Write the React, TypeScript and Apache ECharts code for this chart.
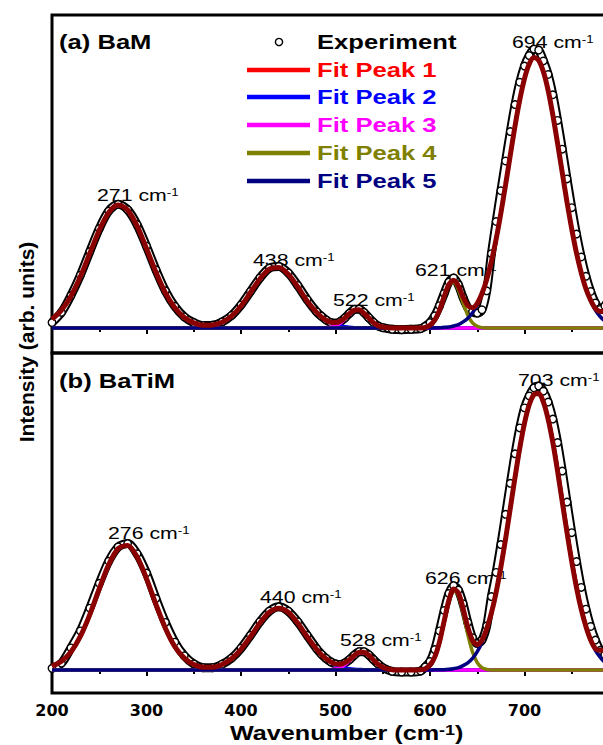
import React, { useEffect, useRef } from "react";
import * as echarts from "echarts";

// Wavenumber sampling grid (cm-1)
const X: number[] = [
  200, 210, 220, 230, 240, 250, 260, 270, 280, 290,
  300, 310, 320, 330, 340, 350, 360, 370, 380, 390,
  400, 410, 420, 430, 440, 450, 460, 470, 480, 485,
  490, 495, 500, 505, 510, 515, 520, 525, 530, 535,
  540, 545, 550, 560, 570, 580, 590, 595, 600, 605,
  610, 615, 620, 625, 630, 635, 640, 645, 650, 655,
  660, 665, 670, 675, 680, 685, 690, 695, 700, 705,
  710, 715, 720, 725, 730, 735, 740, 745, 750, 755,
  760, 765, 770, 775, 780, 785, 790,
];

// (a) BaM
const EXP_A: number[] = [
  1.6, 4.6, 9.6, 15.6, 22.6, 29.4, 34.6, 36.6, 35.0, 30.6,
  24.2, 17.2, 11.0, 6.4, 3.3, 1.6, 0.7, 0.8, 1.8, 3.7,
  6.8, 10.8, 14.8, 17.7, 18.2, 16.3, 12.6, 8.4, 4.8, 3.5,
  2.4, 1.6, 1.4, 1.9, 3.0, 4.4, 5.5, 5.6, 4.6, 3.1,
  1.7, 0.6, 0.1, -0.4, -0.5, -0.4, -0.2, 0.5, 1.6, 3.6,
  6.6, 10.2, 13.6, 14.8, 12.8, 9.0, 6.0, 4.8, 4.4, 5.4,
  11.0, 22.0, 31.5, 40.6, 49.4, 58.1, 66.1, 72.7, 77.5, 80.6,
  82.5, 82.2, 79.0, 75.0, 69.0, 61.4, 52.9, 44.1, 35.6, 27.8,
  21.0, 15.3, 10.8, 7.4, 5.5, 6.5, 9.0,
];
const FIT_A: number[] = [
  2.6, 5.3, 9.4, 15.2, 22.1, 28.9, 34.2, 36.4, 34.9, 30.2,
  23.5, 16.5, 10.4, 6.0, 3.1, 1.5, 0.8, 0.9, 1.7, 3.5,
  6.5, 10.5, 14.5, 17.4, 17.9, 15.9, 12.2, 8.0, 4.6, 3.3,
  2.3, 1.7, 1.6, 2.0, 3.0, 4.3, 5.3, 5.4, 4.4, 3.0,
  1.6, 0.7, 0.3, 0, 0, 0, 0, 0.2, 0.8, 2.3,
  5.2, 9.3, 12.9, 14.1, 12.4, 9.2, 6.6, 6.0, 7.3, 10.2,
  14.3, 19.7, 26.3, 34.0, 42.4, 51.2, 59.8, 67.5, 73.8, 78.1,
  80.0, 79.2, 75.8, 70.3, 63.0, 54.6, 45.9, 37.2, 29.3, 22.2,
  16.4, 11.6, 8.2, 5.8, 4.9, 4.9, 5.3,
];
const PEAK1_A: number[][] = [[200,2.6],[210,5.3],[220,9.4],[230,15.2],[240,22.1],[250,28.9],[260,34.2],[270,36.4],[280,34.9],[290,30.2],[300,23.5],[310,16.5],[320,10.4],[330,6.0],[340,3.1],[350,1.4],[360,0.6],[370,0.2],[380,0.1],[390,0],[790,0]];
const PEAK2_A: number[][] = [[200,0],[330,0],[340,0],[350,0.1],[360,0.2],[370,0.7],[380,1.6],[390,3.5],[400,6.5],[410,10.5],[420,14.5],[430,17.4],[440,17.9],[450,15.9],[460,12.2],[470,8.0],[480,4.6],[490,2.3],[500,1.0],[510,0.4],[520,0.1],[530,0],[790,0]];
const PEAK3_A: number[][] = [[200,0],[485,0],[490,0.1],[495,0.2],[500,0.6],[505,1.4],[510,2.7],[515,4.1],[520,5.2],[525,5.3],[530,4.4],[535,3.0],[540,1.6],[545,0.7],[550,0.3],[560,0],[790,0]];
const PEAK4_A: number[][] = [[200,0],[585,0],[590,0],[595,0.2],[600,0.8],[605,2.2],[610,5.1],[615,9.1],[620,12.6],[625,13.5],[630,11.4],[635,7.4],[640,3.8],[645,1.5],[650,0.5],[655,0.1],[660,0],[790,0]];
const PEAK5_A: number[][] = [[200,0],[590,0],[600,0],[610,0.1],[615,0.2],[620,0.3],[625,0.6],[630,1.0],[635,1.8],[640,2.9],[645,4.5],[650,6.8],[655,10.1],[660,14.3],[665,19.7],[670,26.3],[675,34.0],[680,42.4],[685,51.2],[690,59.8],[695,67.5],[700,73.8],[705,78.1],[710,80.0],[715,79.2],[720,75.8],[725,70.3],[730,63.0],[735,54.6],[740,45.9],[745,37.2],[750,29.3],[755,22.2],[760,16.4],[765,11.6],[770,8.0],[775,5.3],[780,3.4],[785,2.1],[790,1.3]];

// (b) BaTiM
const EXP_B: number[] = [
  0.5, 2.0, 6.5, 11.5, 18.2, 25.5, 32.0, 36.2, 37.2, 34.2,
  28.5, 21.0, 14.0, 8.2, 4.2, 1.8, 0.7, 0.7, 1.7, 3.5,
  6.4, 10.2, 14.2, 17.3, 18.6, 17.3, 14.2, 10.2, 6.3, 4.7,
  3.4, 2.4, 1.8, 1.6, 2.1, 3.1, 4.4, 5.4, 5.4, 4.5,
  3.1, 1.8, 0.7, -0.4, -0.6, -0.6, -0.3, 0.9, 2.5, 6.0,
  11.5, 17.5, 22.5, 24.8, 23.5, 19.5, 14.0, 9.5, 7.8, 8.8,
  13.0, 21.6, 28.7, 36.9, 45.8, 54.9, 63.6, 71.2, 77.1, 80.6,
  83.0, 83.5, 82.0, 78.8, 73.8, 66.9, 58.5, 49.4, 40.4, 31.9,
  24.3, 17.9, 12.8, 8.8, 5.8, 4.5, 5.0,
];
const FIT_B: number[] = [
  1.1, 2.6, 5.3, 9.9, 16.3, 23.9, 31.0, 35.7, 36.6, 33.3,
  26.9, 19.3, 12.3, 6.9, 3.5, 1.6, 0.8, 0.8, 1.6, 3.3,
  6.1, 9.8, 13.8, 17.0, 18.2, 17.0, 13.8, 9.8, 6.1, 4.5,
  3.3, 2.4, 1.8, 1.7, 2.2, 3.1, 4.3, 5.2, 5.2, 4.4,
  3.0, 1.7, 0.8, 0.1, 0, 0, 0.1, 0.4, 1.5, 3.8,
  8.2, 14.4, 20.5, 23.8, 22.7, 18.1, 12.6, 8.7, 7.5, 8.8,
  12.1, 16.8, 22.9, 30.3, 38.6, 47.6, 56.7, 65.3, 72.6, 78.0,
  81.0, 81.3, 78.8, 73.8, 66.9, 58.5, 49.4, 40.4, 31.9, 24.3,
  17.9, 12.8, 8.8, 6.3, 5.8, 5.8, 6.4,
];
const PEAK1_B: number[][] = [[200,1.1],[210,2.6],[220,5.3],[230,9.9],[240,16.3],[250,23.9],[260,31.0],[270,35.7],[280,36.6],[290,33.3],[300,26.9],[310,19.3],[320,12.3],[330,6.9],[340,3.5],[350,1.6],[360,0.6],[370,0.2],[380,0.1],[390,0],[790,0]];
const PEAK2_B: number[][] = [[200,0],[340,0],[350,0.1],[360,0.2],[370,0.6],[380,1.5],[390,3.3],[400,6.1],[410,9.8],[420,13.8],[430,17.0],[440,18.2],[450,17.0],[460,13.8],[470,9.8],[480,6.1],[490,3.3],[500,1.5],[510,0.6],[520,0.2],[530,0.1],[540,0],[790,0]];
const PEAK3_B: number[][] = [[200,0],[490,0],[495,0.1],[500,0.3],[505,0.7],[510,1.5],[515,2.7],[520,4.1],[525,5.0],[530,5.1],[535,4.3],[540,3.0],[545,1.7],[550,0.8],[560,0.1],[570,0],[790,0]];
const PEAK4_B: number[][] = [[200,0],[585,0],[590,0.1],[595,0.4],[600,1.4],[605,3.8],[610,8.2],[615,14.3],[620,20.3],[625,23.4],[630,22.0],[635,16.8],[640,10.5],[645,5.3],[650,2.2],[655,0.7],[660,0.2],[665,0],[790,0]];
const PEAK5_B: number[][] = [[200,0],[595,0],[600,0],[610,0.1],[615,0.1],[620,0.2],[625,0.4],[630,0.7],[635,1.3],[640,2.1],[645,3.4],[650,5.4],[655,8.1],[660,11.9],[665,16.8],[670,22.9],[675,30.3],[680,38.6],[685,47.6],[690,56.7],[695,65.3],[700,72.6],[705,78.0],[710,81.0],[715,81.3],[720,78.8],[725,73.8],[730,66.9],[735,58.5],[740,49.4],[745,40.4],[750,31.9],[755,24.3],[760,17.9],[765,12.8],[770,8.8],[775,5.8],[780,3.8],[785,2.3],[790,1.4]];

const PEAK_NAMES = ["Fit Peak 1", "Fit Peak 2", "Fit Peak 3", "Fit Peak 4", "Fit Peak 5"];
const PEAK_COLORS = ["#ff0000", "#0000ff", "#ff00ff", "#808000", "#000080"];
const FIT_COLOR = "#8b0000";

const LABELS_A: [string, number, number][] = [
  ["271", 97, 195], ["438", 253, 260], ["522", 333, 300], ["621", 415, 270], ["694", 512, 42],
];
const LABELS_B: [string, number, number][] = [
  ["276", 108, 533], ["440", 260, 597], ["528", 340, 640], ["626", 425, 578], ["703", 518, 380],
];

const FONT = "Liberation Sans";

function zip(xs: number[], ys: number[]) {
  return xs.map((x, i) => [x, ys[i]]);
}

function panelSeries(idx: number, exp: number[], fit: number[], peaks: number[][][]) {
  const expData = zip(X, exp);
  const out: any[] = [];
  out.push({
    type: "line", name: "Experiment", xAxisIndex: idx, yAxisIndex: idx, data: expData,
    smooth: 0.3, showSymbol: false, silent: true, z: 1,
    lineStyle: { color: "#000", width: 9 },
  });
  out.push({
    type: "line", name: "Experiment ", xAxisIndex: idx, yAxisIndex: idx, data: expData,
    smooth: 0.3, showSymbol: true, symbol: "circle", symbolSize: 7.5, silent: true, z: 1,
    itemStyle: { color: "#fff", borderColor: "#000", borderWidth: 1.4 },
    lineStyle: { color: "#fff", width: 5 },
  });
  peaks.forEach((p, i) => {
    out.push({
      type: "line", name: PEAK_NAMES[i], xAxisIndex: idx, yAxisIndex: idx, data: p,
      smooth: 0.3, showSymbol: false, silent: true, z: 2,
      lineStyle: { color: PEAK_COLORS[i], width: 3.5 },
    });
  });
  out.push({
    type: "line", name: "Cumulative Fit", xAxisIndex: idx, yAxisIndex: idx, data: zip(X, fit),
    smooth: 0.3, showSymbol: false, silent: true, z: 3,
    lineStyle: { color: FIT_COLOR, width: 5 },
  });
  return out;
}

function txt(text: string, x: number, y: number, size: number, weight: string, fill: string, scaleX: number, rich?: any, rotation?: number, align = "left") {
  return {
    type: "text", x, y, scaleX, rotation: rotation || 0, z: 0, silent: true,
    style: {
      text, fill, fontSize: size, fontWeight: weight, fontFamily: FONT,
      align, verticalAlign: "middle", textAlign: align, textVerticalAlign: "middle",
      rich,
    },
  };
}

function peakLabel(v: string, x: number, y: number) {
  return txt(`${v} cm{s|-1}`, x, y, 16, "normal", "#000", 1.33, {
    s: { fontSize: 10, verticalAlign: "top", fontFamily: FONT, fill: "#000" },
  });
}

export default function App() {
  const ref = useRef<HTMLDivElement>(null);
  useEffect(() => {
    if (!ref.current) return;
    const chart = echarts.init(ref.current, undefined, { renderer: "svg" });
    const xAxisBase = (idx: number, labels: boolean) => ({
      type: "value", gridIndex: idx, min: 200, max: 800, interval: 100,
      axisLine: { show: false },
      axisTick: { show: true, inside: false, length: 6, lineStyle: { color: "#000", width: 2 } },
      minorTick: { show: true, splitNumber: 2, length: 4, lineStyle: { color: "#000", width: 2 } },
      splitLine: { show: false },
      minorSplitLine: { show: false },
      axisLabel: {
        show: labels, color: "#000", fontFamily: "DejaVu Sans", fontWeight: "bold", fontSize: 16, margin: 9,
        showMaxLabel: false,
      },
    });
    const legendGraphics: any[] = [];
    legendGraphics.push({
      type: "circle", shape: { cx: 279, cy: 42, r: 3.6 }, z: 5, silent: true,
      style: { fill: "#fff", stroke: "#000", lineWidth: 1.4 },
    });
    legendGraphics.push(txt("Experiment", 317, 42, 20, "bold", "#000", 1.28));
    const legendY = [70, 97, 125, 153, 181];
    PEAK_NAMES.forEach((n, i) => {
      legendGraphics.push({
        type: "line", shape: { x1: 247, y1: legendY[i], x2: 310, y2: legendY[i] }, z: 5, silent: true,
        style: { stroke: PEAK_COLORS[i], lineWidth: 4.5 },
      });
      legendGraphics.push(txt(n, 317, legendY[i], 20, "bold", PEAK_COLORS[i], 1.28));
    });

    const gridBase = {
      left: 52, width: 567, show: true, borderColor: "#000", borderWidth: 3,
      backgroundColor: "transparent", containLabel: false, outerBoundsMode: "none",
    };
    const option: any = {
      animation: false,
      backgroundColor: "#fff",
      grid: [
        { ...gridBase, top: 15, height: 338 },
        { ...gridBase, top: 353, height: 340 },
      ],
      xAxis: [xAxisBase(0, false), xAxisBase(1, true)],
      yAxis: [
        { type: "value", gridIndex: 0, min: -7.4, max: 92.6, show: false },
        { type: "value", gridIndex: 1, min: -6.76, max: 93.24, show: false },
      ],
      series: [
        ...panelSeries(0, EXP_A, FIT_A, [PEAK1_A, PEAK2_A, PEAK3_A, PEAK4_A, PEAK5_A]),
        ...panelSeries(1, EXP_B, FIT_B, [PEAK1_B, PEAK2_B, PEAK3_B, PEAK4_B, PEAK5_B]),
      ],
      graphic: [
        txt("(a) BaM", 59, 42, 20, "bold", "#000", 1.28),
        txt("(b) BaTiM", 59, 381, 20, "bold", "#000", 1.28),
        ...LABELS_A.map(([v, x, y]) => peakLabel(v, x, y)),
        ...LABELS_B.map(([v, x, y]) => peakLabel(v, x, y)),
        ...legendGraphics,
        txt("Wavenumber (cm{s|-1})", 230, 733, 21, "bold", "#000", 1.2, {
          s: { fontSize: 15, fontWeight: "bold", verticalAlign: "top", fontFamily: FONT, fill: "#000" },
        }),
        txt("Intensity (arb. units)", 26, 342, 21, "bold", "#000", 1, undefined, Math.PI / 2, "center"),
      ],
    };
    chart.setOption(option);
    return () => chart.dispose();
  }, []);
  return (
    <div
      ref={ref}
      style={{ position: "fixed", left: 0, top: 0, width: 603, height: 745, background: "#fff", overflow: "hidden" }}
    />
  );
}
